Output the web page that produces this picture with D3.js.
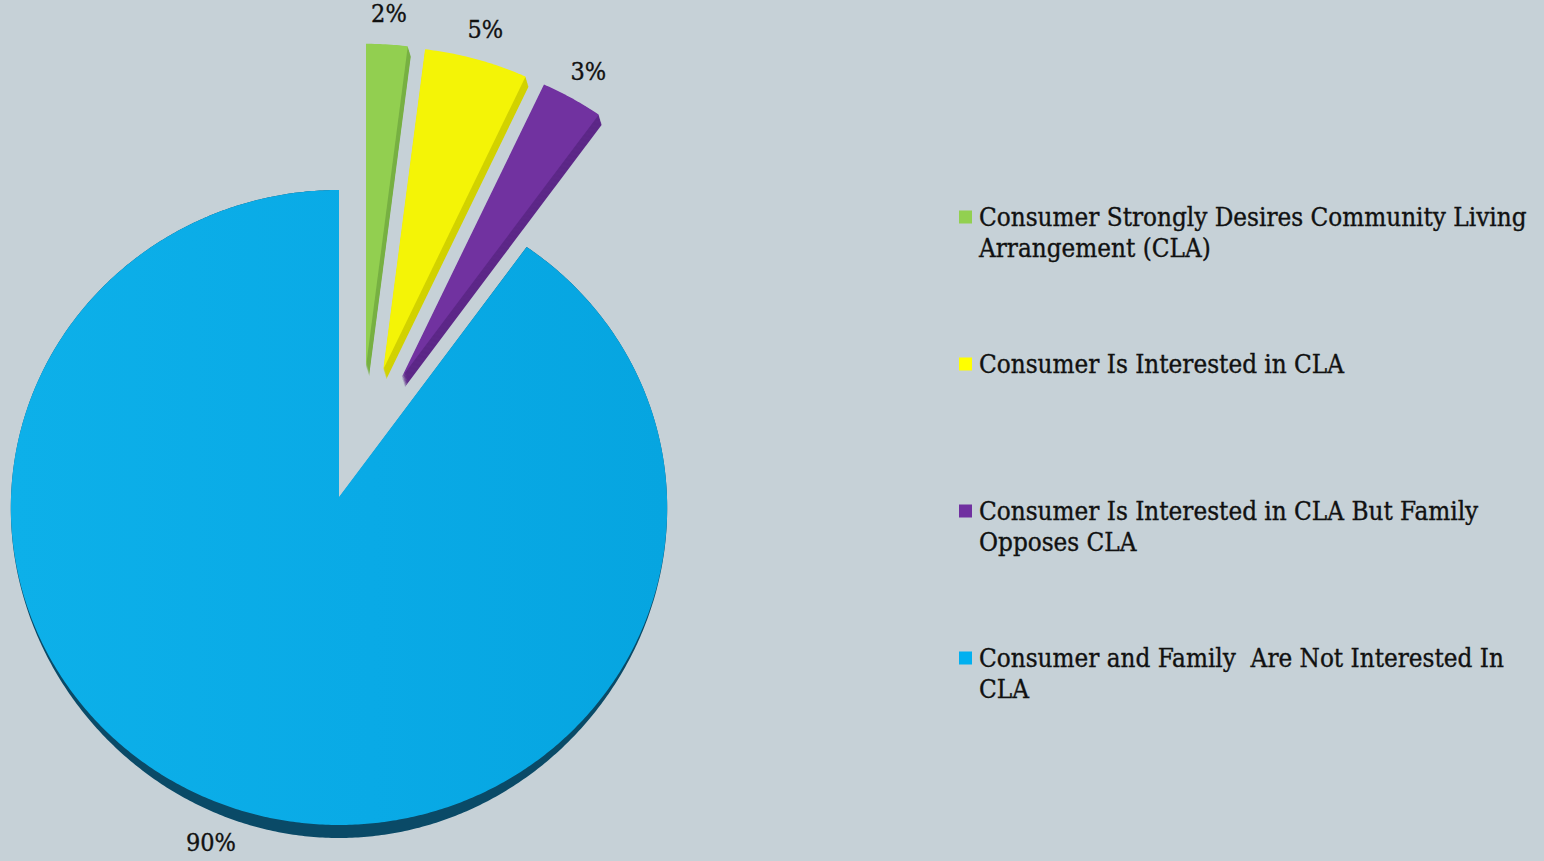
<!DOCTYPE html>
<html>
<head>
<meta charset="utf-8">
<script src="https://cdn.jsdelivr.net/npm/d3@7"></script>
<style>
  html, body { margin: 0; padding: 0; background: #c6d1d7; }
  svg { display: block; }
</style>
</head>
<body>
<svg id="chart" width="1544" height="861"></svg>
<script>
// Survey result: interest in a Community Living Arrangement (CLA)
const categories = [
  ["Consumer Strongly Desires Community Living", "Arrangement (CLA)"],
  ["Consumer Is Interested in CLA"],
  ["Consumer Is Interested in CLA But Family", "Opposes CLA"],
  ["Consumer and Family  Are Not Interested In", "CLA"]
];
const values = [2, 5, 3, 90];
const valueLabels = ["2%", "5%", "3%", "90%"];
const exploded = [true, true, true, false];

const legendColors = ["#92d050", "#ffff00", "#7030a0", "#00b0f0"];
const topColors    = ["#92cf50", "#f4f406", "#7132a0", "url(#blueFace)"];
const sideColors   = ["#78b043", "#d2d200", "#5d2888", "#0a4a67"];

const svg = d3.select("#chart");

const defs = svg.append("defs");
const grad = defs.append("linearGradient").attr("id", "blueFace")
  .attr("x1", "0%").attr("y1", "0%").attr("x2", "100%").attr("y2", "0%");
grad.append("stop").attr("offset", "0%").attr("stop-color", "#0db0e9");
grad.append("stop").attr("offset", "55%").attr("stop-color", "#09aae6");
grad.append("stop").attr("offset", "100%").attr("stop-color", "#06a5e0");

// Pie geometry: tilted disc with a little perspective
const cx = 339, cy = 497;
const RX = 328, RY = 317.5, persp = 0.033;
const explodeDist = 80, explodeShift = [22, -51];
const explodedScale = 1.05;
const rimDepth = 13, rimPower = 4;      // rim of the large slice, thickest at the front
const depthSmall = [3, 10];             // extrusion of the pulled-out wedges

function project(ox, oy, theta, r) {
  const v = -Math.cos(theta);
  const s = 1 + persp * v;
  return [ox + r * RX * Math.sin(theta) * s, oy + r * RY * v * s];
}

const pie = d3.pie().sort(null).value(d => d).startAngle(0).endAngle(2 * Math.PI);
const arcs = pie(values);
const line = d3.line().curve(d3.curveLinearClosed);

function sliceOrigin(a, i) {
  if (!exploded[i]) return [cx, cy];
  const mid = (a.startAngle + a.endAngle) / 2;
  return [cx + explodeShift[0] + explodeDist * Math.sin(mid),
          cy + explodeShift[1] - explodeDist * Math.cos(mid)];
}

// outline of a slice; "drop" lowers each rim point by the rim depth seen from above
function slicePoints(a, i, drop) {
  const [ox, oy] = sliceOrigin(a, i);
  const r = exploded[i] ? explodedScale : 1;
  const span = a.endAngle - a.startAngle;
  const n = Math.max(4, Math.ceil(span / (Math.PI / 360)));
  const lower = th => drop ? rimDepth * Math.pow((1 - Math.cos(th)) / 2, rimPower) : 0;
  const pts = [[ox, oy + (drop ? rimDepth * Math.pow(0.5, rimPower) : 0)]];
  for (let k = 0; k <= n; k++) {
    const th = a.startAngle + span * k / n;
    const p = project(ox, oy, th, r);
    pts.push([p[0], p[1] + lower(th)]);
  }
  return pts;
}

const pieG = svg.append("g").attr("class", "pie");
// large slice first, then the exploded wedges on top
const order = [3, 0, 1, 2];
order.forEach(i => {
  const a = arcs[i];
  const d = line(slicePoints(a, i, false));
  const g = pieG.append("g").attr("class", "slice");
  if (exploded[i]) {
    const steps = Math.ceil(Math.hypot(depthSmall[0], depthSmall[1]));
    for (let s = steps; s >= 1; s--) {
      g.append("path")
        .attr("d", d)
        .attr("transform", `translate(${depthSmall[0] * s / steps},${depthSmall[1] * s / steps})`)
        .attr("fill", sideColors[i]);
    }
  } else {
    g.append("path").attr("d", line(slicePoints(a, i, true))).attr("fill", sideColors[i]);
  }
  g.append("path").attr("d", d).attr("fill", topColors[i]);
});

// percentage labels
const labelFont = "'DejaVu Serif Condensed', 'DejaVu Serif', serif";
arcs.forEach((a, i) => {
  const [ox, oy] = sliceOrigin(a, i);
  const mid = (a.startAngle + a.endAngle) / 2;
  const [lx, ly] = project(ox, oy, mid, exploded[i] ? 1.15 : 1.11);
  svg.append("text")
    .attr("x", exploded[i] ? lx : lx - 12).attr("y", ly)
    .attr("text-anchor", "middle")
    .attr("dominant-baseline", "central")
    .attr("font-family", labelFont)
    .attr("font-size", 25)
    .attr("fill", "#111")
    .attr("stroke", "#111").attr("stroke-width", 0.35)
    .text(valueLabels[i]);
});

// legend
const legendX = 959, legendTextX = 979, legendTop = 217, legendStep = 147, lineGap = 31;
const legendWidth = 548;
// size the legend font so its longest line spans the legend width
const probe = svg.append("text").attr("font-family", labelFont).attr("font-size", 100)
  .text(categories[0][0]);
const probeW = probe.node().getComputedTextLength();
probe.remove();
const legendSize = Math.min(26, 100 * legendWidth / probeW);

const legend = svg.append("g").attr("class", "legend");
const yPos = d3.scaleLinear().domain([0, 1]).range([legendTop, legendTop + legendStep]);
categories.forEach((lines, i) => {
  const yc = yPos(i);
  legend.append("rect")
    .attr("x", legendX).attr("y", yc - 6.5)
    .attr("width", 13).attr("height", 13)
    .attr("fill", legendColors[i]);
  const t = legend.append("text")
    .attr("font-family", labelFont)
    .attr("font-size", legendSize)
    .attr("fill", "#111")
    .attr("stroke", "#111").attr("stroke-width", 0.35);
  lines.forEach((ln, j) => {
    t.append("tspan")
      .attr("x", legendTextX)
      .attr("y", yc + 9 + j * lineGap)
      .style("white-space", "pre")
      .text(ln);
  });
});
</script>
</body>
</html>
